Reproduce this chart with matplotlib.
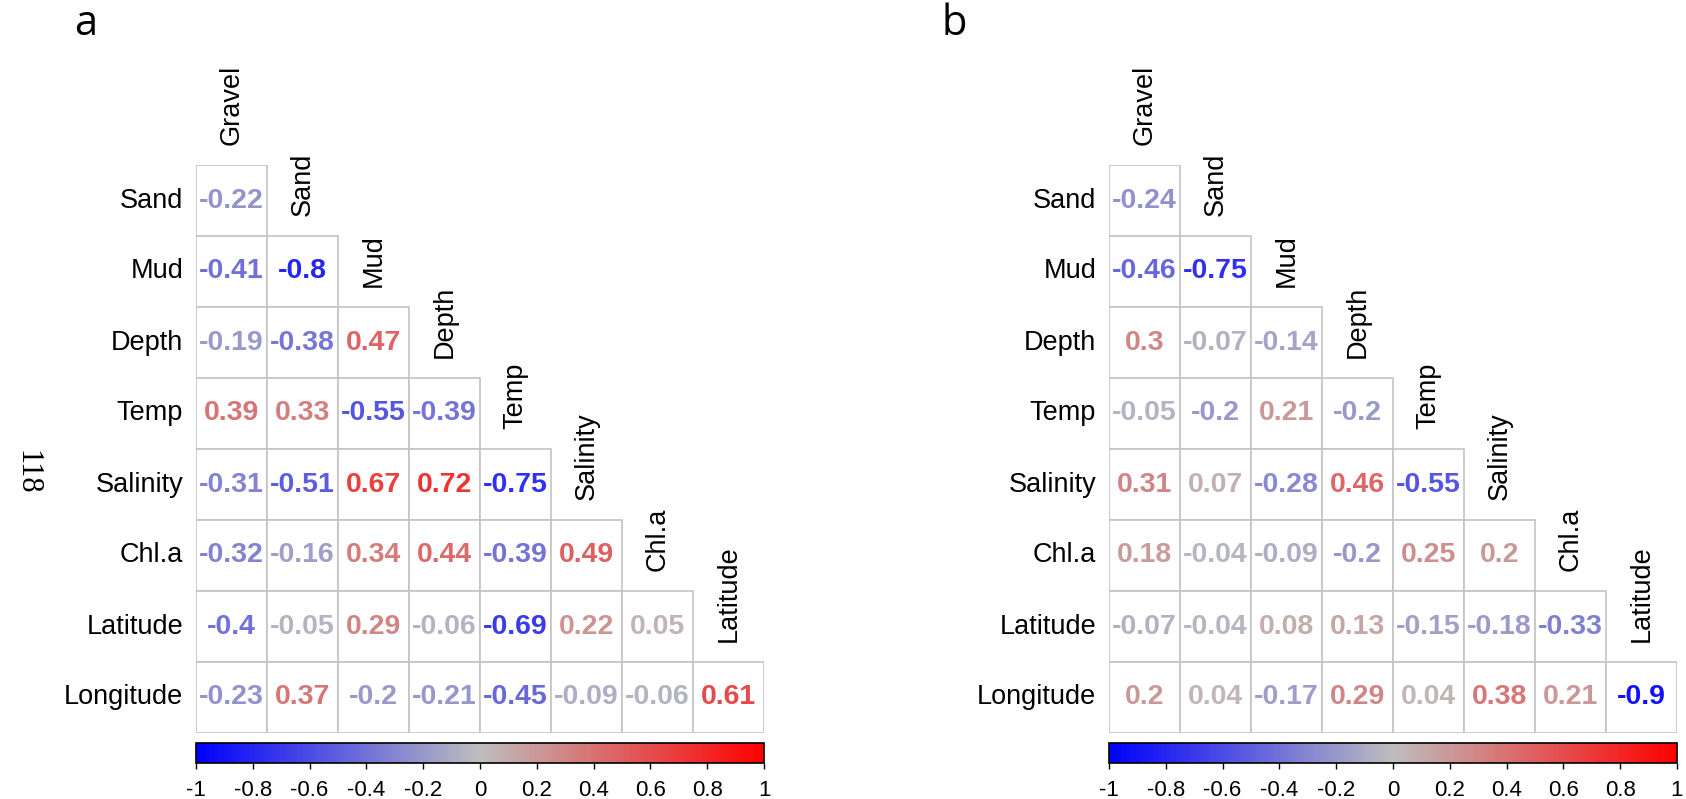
import numpy as np
import matplotlib
matplotlib.use("Agg")
from matplotlib import pyplot as plt
from matplotlib.colors import LinearSegmentedColormap, Normalize
from matplotlib.cm import ScalarMappable
from matplotlib.patches import Rectangle

row_names = ["Sand", "Mud", "Depth", "Temp", "Salinity", "Chl.a", "Latitude", "Longitude"]
col_names = ["Gravel", "Sand", "Mud", "Depth", "Temp", "Salinity", "Chl.a", "Latitude"]

# lower triangle, one list per row
corr_a = [
    [-0.22],
    [-0.41, -0.8],
    [-0.19, -0.38, 0.47],
    [0.39, 0.33, -0.55, -0.39],
    [-0.31, -0.51, 0.67, 0.72, -0.75],
    [-0.32, -0.16, 0.34, 0.44, -0.39, 0.49],
    [-0.4, -0.05, 0.29, -0.06, -0.69, 0.22, 0.05],
    [-0.23, 0.37, -0.2, -0.21, -0.45, -0.09, -0.06, 0.61],
]
corr_b = [
    [-0.24],
    [-0.46, -0.75],
    [0.3, -0.07, -0.14],
    [-0.05, -0.2, 0.21, -0.2],
    [0.31, 0.07, -0.28, 0.46, -0.55],
    [0.18, -0.04, -0.09, -0.2, 0.25, 0.2],
    [-0.07, -0.04, 0.08, 0.13, -0.15, -0.18, -0.33],
    [0.2, 0.04, -0.17, 0.29, 0.04, 0.38, 0.21, -0.9],
]
cbar_ticks = [-1, -0.8, -0.6, -0.4, -0.2, 0, 0.2, 0.4, 0.6, 0.8, 1]

W, H = 1686, 799
SANS = "Liberation Sans"
cmap = LinearSegmentedColormap.from_list("bgr", ["#0000FF", "#BEBEBE", "#FF0000"])
norm = Normalize(-1, 1)

fig = plt.figure(figsize=(W / 100, H / 100), dpi=100)


def px_axes(x0, y0, w, h):
    # axes placed in pixel units measured from the top-left corner
    return fig.add_axes([x0 / W, 1 - (y0 + h) / H, w / W, h / H])


def fmt(v):
    return "%g" % v


def draw_panel(x0, corr, letter, letter_x):
    cell = 71
    top = 165
    n = len(row_names)
    ax = px_axes(x0, top, cell * n, cell * n)
    ax.set_xlim(0, n)
    ax.set_ylim(n, 0)
    ax.axis("off")

    for i, row in enumerate(corr):
        for j, v in enumerate(row):
            ax.add_patch(Rectangle((j, i), 1, 1, facecolor="white",
                                   edgecolor="#C4C4C4", lw=1.2))
            ax.text(j + 0.5, i + 0.5, fmt(v), ha="center", va="center",
                    fontsize=20.5, fontweight="bold", family=SANS,
                    color=cmap(norm(v)))

    for i, name in enumerate(row_names):
        ax.text(-0.18, i + 0.5, name, ha="right", va="center",
                fontsize=19.5, family=SANS, clip_on=False)
    for j, name in enumerate(col_names):
        ax.text(j + 0.5, j - 0.28, name, ha="center", va="bottom",
                rotation=90, fontsize=19.5, family=SANS, clip_on=False)

    cax = px_axes(x0, 743, cell * n, 20)
    cb = fig.colorbar(ScalarMappable(norm=norm, cmap=cmap), cax=cax,
                      orientation="horizontal", ticks=cbar_ticks)
    cb.outline.set_linewidth(1.2)
    cb.ax.set_xticklabels([fmt(t) for t in cbar_ticks])
    cb.ax.tick_params(length=4, width=1, pad=8, labelsize=16)
    for lab in cb.ax.get_xticklabels():
        lab.set_family(SANS)

    fig.text(letter_x / W, 1 - 35 / H, letter, fontsize=30,
             family="Open Sans", ha="left", va="baseline")


draw_panel(196, corr_a, "a", 74)
draw_panel(1109, corr_b, "b", 941)

fig.text(27 / W, 1 - 472 / H, "118", rotation=-90, ha="center", va="center",
         fontsize=22, family="Liberation Serif")

fig.savefig("out.png", dpi=100)
